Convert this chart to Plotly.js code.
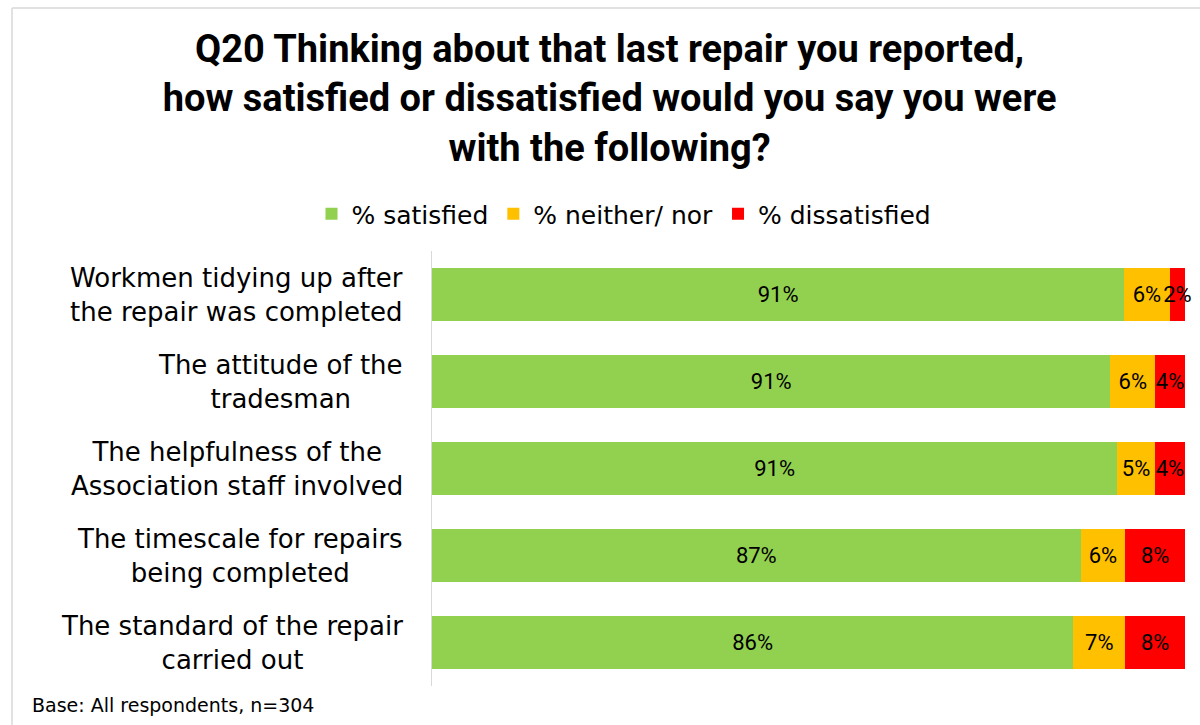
<!DOCTYPE html>
<html>
<head>
<meta charset="utf-8">
<script src="https://cdn.plot.ly/plotly-3.0.1.min.js"></script>
<style>html,body{margin:0;padding:0;background:#fff;}#chart{width:1200px;height:725px;}</style>
</head>
<body>
<div id="chart"></div>
<script>
const categories = [
  "Workmen tidying up after<br>the repair was completed",
  "The attitude of the<br>tradesman",
  "The helpfulness of the<br>Association staff involved",
  "The timescale for repairs<br>being completed",
  "The standard of the repair<br>carried out"
];
const satisfied = [91, 91, 91, 87, 86];
const neither = [6, 6, 5, 6, 7];
const dissatisfied = [2, 4, 4, 8, 8];
const seriesNames = ["% satisfied", "% neither/ nor", "% dissatisfied"];
const seriesColors = ["#92D050", "#FFC000", "#FF0000"];
const titleText = "Q20 Thinking about that last repair you reported,<br>how satisfied or dissatisfied would you say you were<br>with the following?";
const footnote = "Base: All respondents, n=304";

// plot area in pixels (used only to convert page positions to paper coordinates)
const W = 1200, H = 725, L = 432, R = 15, T = 251, B = 39;
const pw = W - L - R, ph = H - T - B;
const px = x => (x - L) / pw;
const py = y => (H - B - y) / ph;

const labelFont = {family: "Roboto, 'DejaVu Sans', sans-serif", size: 22, color: "#000"};
const seriesValues = [satisfied, neither, dissatisfied];

const traces = seriesValues.map((vals, i) => ({
  type: "bar",
  orientation: "h",
  name: seriesNames[i],
  y: categories,
  x: vals,
  marker: {color: seriesColors[i]},
  text: vals.map(v => v + "%"),
  textposition: "inside",
  insidetextanchor: "middle",
  textangle: 0,
  constraintext: "none",
  cliponaxis: false,
  textfont: labelFont,
  hoverinfo: "skip"
}));

const annotations = categories.map(c => ({
  x: 0, xref: "paper", xshift: -27,
  y: c, yref: "y",
  xanchor: "right", yanchor: "middle", align: "center",
  text: c, showarrow: false,
  font: {family: "'DejaVu Sans', sans-serif", size: 26, color: "#000"}
}));
annotations.push({
  x: px(30), xref: "paper", y: py(705), yref: "paper",
  xanchor: "left", yanchor: "middle", text: footnote, showarrow: false,
  font: {family: "'DejaVu Sans', sans-serif", size: 19, color: "#000"}
});

const layout = {
  width: W, height: H,
  paper_bgcolor: "#fff", plot_bgcolor: "#fff",
  margin: {l: L, r: R, t: T, b: B, pad: 0},
  barmode: "stack",
  barnorm: "percent",
  bargap: 0.4,
  showlegend: true,
  title: {
    text: titleText,
    x: 0.508, xref: "container", xanchor: "center",
    y: 1 - 62 / 725, yref: "container", yanchor: "top",
    font: {family: "Roboto, sans-serif", size: 38, color: "#000", weight: "bold"}
  },
  legend: {
    orientation: "h",
    x: 624 / 1200, xref: "container", xanchor: "center",
    y: 1 - 214 / 725, yref: "container", yanchor: "middle",
    font: {family: "'DejaVu Sans', sans-serif", size: 25, color: "#000"},
    traceorder: "normal"
  },
  xaxis: {range: [0, 100], showgrid: false, zeroline: false, showticklabels: false, showline: false, fixedrange: true},
  yaxis: {autorange: "reversed", showticklabels: false, showgrid: false, zeroline: false,
          showline: true, linecolor: "#d9d9d9", linewidth: 1.5, ticks: "", fixedrange: true},
  annotations: annotations,
  shapes: [
    {type: "line", xref: "paper", yref: "paper", x0: px(12), x1: px(12), y0: py(725), y1: py(8), line: {color: "#d9d9d9", width: 1.5}},
    {type: "line", xref: "paper", yref: "paper", x0: px(12), x1: px(1200), y0: py(8), y1: py(8), line: {color: "#d9d9d9", width: 1.5}}
  ]
};

Plotly.newPlot("chart", traces, layout, {displayModeBar: false, staticPlot: true});
</script>
</body>
</html>
